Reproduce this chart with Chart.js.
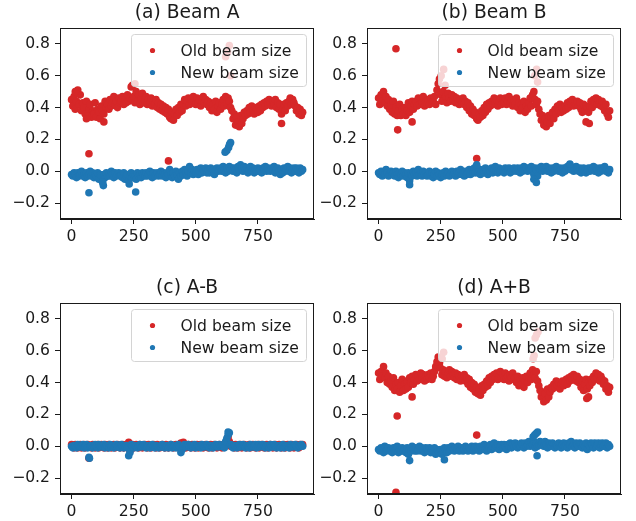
<!DOCTYPE html>
<html>
<head>
<meta charset="utf-8">
<script src="https://cdn.jsdelivr.net/npm/chart.js@4/dist/chart.umd.min.js"></script>
<style>
  html, body { margin: 0; padding: 0; background: #fff; overflow: hidden; }
  #wrap { position: relative; width: 636px; height: 521px; }
  canvas { position: absolute; }
</style>
</head>
<body>
<div id="wrap">
  <canvas id="cA" width="318" height="260" style="left:0px;top:0px"></canvas>
  <canvas id="cB" width="318" height="260" style="left:307px;top:0px"></canvas>
  <canvas id="cC" width="318" height="260" style="left:0px;top:275px"></canvas>
  <canvas id="cD" width="318" height="260" style="left:307px;top:275px"></canvas>
</div>
<script>
// ---------- data ----------
const TITLES = ["(a) Beam A", "(b) Beam B", "(c) A-B", "(d) A+B"];
const SERIES = ["Old beam size", "New beam size"];
const X_TICKS = [0, 250, 500, 750];
const Y_TICKS = [-0.2, 0.0, 0.2, 0.4, 0.6, 0.8];
const SAMPLE_STEP = 5; // sample index spacing of the values below

const oldA = [
0.45,0.41,0.47,0.39,0.44,0.51,0.42,0.48,0.38,0.43,
0.40,0.36,0.44,0.35,0.39,0.42,0.34,0.38,0.36,0.43,
0.34,0.39,0.37,0.33,0.41,0.38,0.36,0.44,0.40,0.42,
0.39,0.45,0.41,0.43,0.47,0.42,0.44,0.40,0.46,0.43,
0.44,0.47,0.42,0.45,0.43,0.48,0.44,0.46,0.53,0.45,
0.47,0.43,0.50,0.44,0.48,0.42,0.46,0.49,0.43,0.45,
0.47,0.42,0.45,0.43,0.46,0.41,0.44,0.42,0.45,0.40,
0.43,0.39,0.42,0.38,0.41,0.37,0.40,0.36,0.39,0.34,
0.33,0.37,0.32,0.36,0.39,0.35,0.40,0.37,0.42,0.38,
0.42,0.45,0.41,0.44,0.46,0.42,0.45,0.43,0.47,0.44,
0.42,0.46,0.43,0.45,0.41,0.44,0.47,0.43,0.45,0.42,
0.44,0.40,0.43,0.38,0.42,0.39,0.44,0.37,0.41,0.43,
0.39,0.42,0.45,0.41,0.47,0.43,0.46,0.44,0.40,0.38,
0.33,0.36,0.29,0.34,0.31,0.28,0.35,0.30,0.33,0.37,
0.35,0.38,0.36,0.40,0.37,0.41,0.38,0.36,0.40,0.39,
0.37,0.41,0.38,0.42,0.40,0.43,0.41,0.44,0.42,0.45,
0.43,0.41,0.44,0.42,0.45,0.40,0.43,0.39,0.42,0.36,
0.39,0.42,0.38,0.43,0.41,0.44,0.46,0.42,0.45,0.43,
0.41,0.38,0.40,0.36,0.39,0.35,0.37];
const oldA_extra = [[70,0.11],[130,0.31],[390,0.065],[845,0.30],[620,0.72],[628,0.75],[635,0.79],[640,0.60],[255,0.55],[245,0.54],[15,0.50],[60,0.33]];

const newA = [
-0.02,-0.03,-0.01,-0.02,-0.04,-0.01,-0.03,-0.02,0.00,-0.03,
-0.02,-0.04,-0.01,-0.03,-0.02,0.00,-0.03,-0.01,-0.04,-0.02,
-0.03,-0.01,-0.05,-0.02,-0.03,-0.06,-0.02,-0.04,-0.01,-0.03,
-0.02,-0.03,0.00,-0.02,-0.04,-0.01,-0.03,-0.02,-0.01,-0.03,
-0.02,-0.04,-0.01,-0.05,-0.03,-0.02,-0.06,-0.03,-0.01,-0.04,
-0.02,-0.03,-0.05,-0.01,-0.03,-0.02,-0.04,-0.01,-0.02,-0.03,
-0.01,-0.03,-0.02,0.00,-0.02,-0.04,-0.01,-0.03,-0.02,-0.01,
-0.03,-0.02,0.00,-0.03,-0.01,-0.02,-0.04,-0.01,-0.02,0.01,
-0.02,-0.04,-0.01,-0.03,0.00,-0.02,-0.05,-0.01,-0.03,0.00,
-0.02,0.01,-0.01,-0.03,0.00,0.03,-0.01,0.01,-0.02,0.00,
-0.01,0.01,-0.02,0.00,0.02,-0.01,0.01,0.00,0.02,-0.01,
0.01,-0.01,0.02,0.00,0.01,-0.02,0.01,0.02,0.00,0.01,
0.02,0.00,0.03,0.01,-0.01,0.02,0.00,0.03,0.01,0.02,
0.00,0.02,0.01,-0.01,0.03,0.01,0.04,0.02,0.00,0.03,
0.01,0.02,-0.01,0.01,0.03,0.00,0.02,-0.01,0.01,0.00,
0.02,0.00,0.01,-0.01,0.02,0.01,0.03,0.00,0.02,0.01,
0.00,0.02,0.01,0.03,-0.01,0.01,0.02,0.00,-0.02,0.01,
-0.01,0.02,0.00,0.01,0.03,0.00,0.02,-0.01,0.01,0.02,
0.00,0.02,0.01,-0.01,0.02,0.00,0.01];
const newA_extra = [[70,-0.135],[258,-0.13],[128,-0.09],[125,-0.07],[232,-0.08],[618,0.12],[625,0.13],[632,0.15],[636,0.17],[640,0.18]];

const oldB = [
0.46,0.42,0.48,0.44,0.50,0.43,0.47,0.41,0.45,0.39,
0.42,0.37,0.44,0.36,0.40,0.35,0.38,0.42,0.35,0.39,
0.36,0.40,0.35,0.38,0.43,0.37,0.41,0.44,0.39,0.42,
0.44,0.41,0.46,0.42,0.45,0.43,0.47,0.41,0.44,0.42,
0.45,0.42,0.46,0.43,0.44,0.47,0.42,0.51,0.55,0.58,
0.48,0.44,0.50,0.45,0.47,0.43,0.49,0.46,0.44,0.48,
0.45,0.47,0.43,0.46,0.44,0.42,0.45,0.43,0.46,0.42,
0.44,0.40,0.43,0.38,0.41,0.36,0.39,0.35,0.37,0.33,
0.32,0.36,0.34,0.38,0.35,0.40,0.37,0.42,0.39,0.43,
0.41,0.44,0.42,0.46,0.43,0.45,0.41,0.44,0.46,0.42,
0.45,0.43,0.46,0.42,0.44,0.47,0.43,0.45,0.41,0.44,
0.42,0.46,0.40,0.43,0.38,0.42,0.40,0.44,0.37,0.41,
0.39,0.43,0.46,0.41,0.48,0.50,0.45,0.42,0.44,0.39,
0.36,0.32,0.35,0.29,0.33,0.28,0.31,0.35,0.30,0.34,
0.37,0.33,0.39,0.36,0.41,0.38,0.42,0.37,0.40,0.38,
0.41,0.39,0.43,0.40,0.44,0.42,0.45,0.41,0.43,0.42,
0.44,0.41,0.43,0.39,0.37,0.42,0.38,0.41,0.40,0.37,
0.41,0.44,0.40,0.45,0.43,0.46,0.42,0.45,0.43,0.41,
0.44,0.40,0.38,0.42,0.36,0.34,0.38];
const oldB_extra = [[70,0.77],[77,0.26],[135,0.31],[395,0.08],[252,0.60],[262,0.64],[268,0.54],[628,0.60],[636,0.64],[640,0.56],[835,0.31],[848,0.30]];

const newB = [
-0.01,-0.02,0.00,-0.03,-0.01,-0.02,0.01,-0.01,-0.03,-0.02,
0.00,-0.02,-0.01,-0.03,0.00,-0.02,-0.04,-0.01,-0.02,0.00,
-0.03,-0.01,-0.02,-0.04,-0.01,-0.06,-0.02,-0.03,0.00,-0.02,
-0.01,-0.03,0.01,-0.02,-0.01,-0.03,0.00,-0.02,-0.01,-0.03,
-0.02,0.00,-0.03,-0.01,-0.04,-0.02,0.00,-0.03,-0.01,-0.02,
-0.04,-0.02,-0.01,-0.03,0.00,-0.02,-0.01,-0.03,-0.02,0.00,
-0.02,-0.01,-0.03,0.00,-0.02,-0.01,0.01,-0.02,-0.01,-0.03,
0.00,-0.02,-0.01,0.01,-0.02,0.00,-0.01,0.02,-0.01,0.03,
-0.01,0.01,-0.02,0.00,0.01,-0.01,0.02,0.00,-0.02,0.01,
0.00,0.02,-0.01,0.01,0.03,0.00,-0.01,0.02,0.00,0.01,
0.01,-0.01,0.02,0.00,0.01,0.02,-0.01,0.01,0.00,0.02,
0.01,0.00,0.02,0.01,-0.01,0.02,0.00,0.03,0.01,0.02,
0.00,0.02,0.01,0.03,0.00,-0.02,0.02,0.01,-0.03,0.02,
0.01,0.03,0.00,0.02,0.01,0.03,0.00,0.02,0.01,-0.01,
0.02,0.00,0.01,0.03,0.01,0.00,0.02,0.01,-0.01,0.02,
0.00,0.01,0.03,0.02,0.04,0.01,0.02,0.00,0.01,0.03,
0.01,0.00,0.02,-0.01,0.01,0.02,0.00,-0.01,0.01,0.02,
0.00,0.02,0.01,0.03,0.00,0.02,0.01,-0.01,0.02,0.00,
0.02,0.01,0.03,0.00,0.01,-0.01,0.01];
const newB_extra = [[125,-0.085],[395,0.04],[625,-0.05],[635,-0.07],[770,0.045]];

const oldC = [
0.01,0.00,-0.01,0.01,0.00,-0.01,0.00,0.01,-0.01,0.00,
0.01,-0.01,0.00,0.01,-0.075,0.00,-0.01,0.01,0.00,-0.01,
0.00,0.01,-0.01,0.00,0.01,0.00,-0.01,0.01,0.00,-0.01,
0.01,0.00,-0.01,0.00,0.01,-0.01,0.00,0.01,0.00,-0.01,
0.00,0.01,-0.01,0.00,0.01,0.00,0.025,-0.03,0.00,0.01,
-0.01,0.00,0.01,0.00,-0.01,0.01,0.00,-0.01,0.00,0.01,
0.00,-0.01,0.01,0.00,-0.01,0.00,0.01,0.00,-0.01,0.01,
0.00,-0.01,0.00,0.01,0.00,-0.01,0.01,0.00,-0.01,0.00,
0.01,0.00,-0.01,0.00,0.01,0.00,-0.01,0.01,0.02,0.00,
0.025,0.01,-0.01,0.00,0.01,0.00,-0.01,0.01,0.00,-0.01,
0.00,0.01,-0.01,0.00,0.01,0.00,-0.01,0.00,0.01,0.00,
-0.01,0.00,0.01,-0.01,0.00,0.01,0.00,-0.01,0.00,0.01,
0.00,-0.01,0.01,0.00,0.02,0.04,0.06,0.03,0.00,0.01,
0.00,-0.01,0.01,0.00,-0.01,0.00,0.01,-0.01,0.00,0.01,
0.00,-0.01,0.00,0.01,-0.01,0.00,0.01,0.00,-0.01,0.00,
0.01,-0.01,0.00,0.01,0.00,-0.01,0.00,0.01,-0.01,0.00,
0.01,0.00,-0.01,0.00,0.01,-0.01,0.00,0.01,0.00,-0.01,
0.00,0.01,-0.01,0.00,0.01,0.00,-0.01,0.01,0.00,-0.01,
0.00,0.01,0.00,-0.01,0.01,0.00,0.01];
const oldC_extra = [];

const newC = [
0.00,-0.01,0.005,0.00,-0.01,0.01,0.00,-0.005,0.00,0.01,
-0.01,0.00,0.01,-0.01,-0.07,0.00,0.005,-0.01,0.00,0.01,
0.00,-0.01,0.01,0.00,-0.005,0.00,0.01,-0.01,0.005,0.00,
-0.01,0.01,0.00,0.005,-0.01,0.00,0.01,-0.005,0.00,-0.01,
0.01,0.00,-0.01,0.00,0.005,-0.01,-0.06,-0.04,0.01,0.00,
-0.01,0.005,0.00,-0.01,0.00,0.01,-0.005,0.00,0.01,0.00,
-0.01,0.00,0.005,-0.01,0.00,0.01,0.00,-0.01,0.005,0.00,
-0.01,0.00,-0.005,0.01,0.00,-0.01,0.00,0.005,-0.01,0.00,
0.01,-0.01,0.00,0.005,-0.01,0.00,0.01,0.00,-0.04,-0.02,
0.00,0.01,-0.005,0.00,0.01,0.00,-0.01,0.005,0.00,0.01,
-0.01,0.00,0.005,0.00,-0.01,0.01,0.00,-0.005,0.00,0.01,
0.00,-0.01,0.005,0.00,-0.01,0.00,0.01,0.00,-0.005,0.01,
0.00,0.005,0.00,-0.01,0.03,0.05,0.07,0.085,0.01,0.00,
-0.01,0.005,0.00,-0.01,0.00,0.01,-0.005,0.00,0.01,0.00,
-0.01,0.005,0.00,-0.01,0.01,0.00,-0.005,0.00,0.01,-0.01,
0.00,0.01,-0.005,0.00,0.01,0.00,-0.01,0.005,0.00,-0.01,
0.01,0.00,-0.005,0.01,0.00,-0.01,0.00,0.005,-0.01,0.00,
0.01,-0.01,0.00,0.005,0.00,-0.01,0.01,0.00,-0.005,0.00,
0.01,0.00,-0.01,0.005,0.00,0.01,0.00];
const newC_extra = [[72,-0.075],[630,0.09]];

const oldD = [
0.46,0.42,0.47,0.44,0.50,0.43,0.46,0.40,0.44,0.39,
0.41,0.37,0.43,0.35,0.39,0.36,0.40,0.34,0.38,0.42,
0.35,0.39,0.36,0.41,0.37,0.43,0.40,0.44,0.39,0.42,
0.45,0.41,0.44,0.42,0.46,0.43,0.45,0.41,0.44,0.42,
0.45,0.43,0.46,0.42,0.44,0.47,0.50,0.53,0.56,0.52,
0.49,0.45,0.48,0.44,0.47,0.43,0.46,0.48,0.44,0.47,
0.45,0.43,0.46,0.42,0.45,0.44,0.41,0.44,0.42,0.45,
0.41,0.43,0.39,0.42,0.37,0.40,0.36,0.39,0.34,0.37,
0.33,0.36,0.32,0.38,0.35,0.39,0.37,0.41,0.38,0.43,
0.40,0.44,0.42,0.45,0.43,0.46,0.42,0.44,0.47,0.43,
0.45,0.42,0.46,0.43,0.44,0.41,0.45,0.43,0.46,0.42,
0.43,0.40,0.44,0.38,0.42,0.39,0.43,0.37,0.41,0.44,
0.40,0.43,0.46,0.42,0.48,0.45,0.43,0.47,0.41,0.38,
0.35,0.31,0.34,0.28,0.33,0.29,0.36,0.31,0.34,0.37,
0.36,0.39,0.37,0.41,0.38,0.40,0.36,0.39,0.41,0.38,
0.40,0.42,0.39,0.43,0.41,0.44,0.42,0.45,0.43,0.41,
0.44,0.40,0.42,0.37,0.41,0.35,0.39,0.42,0.36,0.40,
0.38,0.42,0.40,0.44,0.42,0.46,0.43,0.45,0.41,0.44,
0.42,0.39,0.41,0.36,0.38,0.34,0.37];
const oldD_extra = [[75,0.19],[70,-0.29],[135,0.31],[395,0.07],[262,0.59],[256,0.55],[622,0.55],[626,0.57],[630,0.68],[636,0.70],[642,0.72],[838,0.30],[845,0.31]];

const newD = [
-0.02,-0.03,-0.01,-0.02,-0.04,0.00,-0.03,-0.02,-0.01,-0.03,
-0.02,-0.04,-0.01,-0.03,-0.02,0.00,-0.04,-0.02,-0.03,-0.01,
-0.03,-0.02,-0.04,-0.01,-0.05,-0.02,-0.03,0.00,-0.02,-0.03,
-0.01,-0.03,-0.02,0.00,-0.03,-0.01,-0.02,-0.04,-0.01,-0.02,
-0.03,-0.01,-0.04,-0.02,-0.03,-0.01,-0.05,-0.02,-0.03,-0.04,
-0.02,-0.05,-0.03,-0.01,-0.02,-0.04,-0.01,-0.03,-0.02,0.00,
-0.02,-0.03,-0.01,-0.02,0.00,-0.03,-0.02,-0.01,-0.03,-0.02,
0.00,-0.02,-0.03,-0.01,-0.02,0.00,-0.03,-0.01,0.00,-0.02,
-0.01,-0.03,0.00,-0.02,-0.01,0.01,-0.02,-0.03,0.00,-0.01,
0.01,-0.02,0.00,0.02,-0.01,0.00,0.01,-0.02,0.00,0.01,
-0.01,0.01,0.00,-0.02,0.01,0.00,0.02,-0.01,0.01,0.00,
0.02,0.00,-0.01,0.01,0.00,0.02,0.01,-0.01,0.02,0.00,
0.01,0.03,0.00,0.02,0.01,0.03,-0.01,0.02,0.00,0.01,
0.03,0.01,0.02,0.00,0.03,0.01,-0.01,0.02,0.01,0.00,
0.02,0.01,-0.01,0.01,0.00,0.02,0.00,-0.01,0.01,0.02,
0.00,0.01,-0.01,0.02,0.01,0.03,0.00,0.01,-0.01,0.02,
0.01,0.00,0.02,0.01,-0.01,0.01,0.00,0.02,-0.02,0.01,
0.00,0.02,0.01,-0.01,0.02,0.00,0.01,0.02,-0.01,0.01,
0.02,0.00,0.01,0.02,-0.01,0.01,0.00];
const newD_extra = [[125,-0.09],[265,-0.085],[622,0.06],[628,0.07],[634,0.08],[640,0.09],[638,-0.06]];

// ---------- styling ----------
const RED = '#d62728';
const BLUE = '#1f77b4';
const FONT = 'DejaVu Sans';
const TXT = '#1a1a1a';
const PT_R = 3.8;

const framePlugin = {
  id: 'frame',
  afterDraw(chart) {
    const a = chart.chartArea, ctx = chart.ctx;
    ctx.save();
    ctx.strokeStyle = '#1a1a1a';
    ctx.lineWidth = 1;
    ctx.strokeRect(Math.round(a.left) + 0.5, Math.round(a.top) + 0.5,
                   Math.round(a.right - a.left) - 1, Math.round(a.bottom - a.top) - 1);
    ctx.restore();
  }
};

const titlePlugin = {
  id: 'mtitle',
  afterDraw(chart, args, opts) {
    const a = chart.chartArea, ctx = chart.ctx;
    ctx.save();
    ctx.font = '18.7px "' + FONT + '"';
    ctx.fillStyle = TXT;
    ctx.textAlign = 'center';
    ctx.textBaseline = 'alphabetic';
    ctx.fillText(opts.text, (a.left + a.right) / 2, a.top - 10);
    ctx.restore();
  }
};

function roundRect(ctx, x, y, w, h, r) {
  ctx.beginPath();
  ctx.moveTo(x + r, y);
  ctx.lineTo(x + w - r, y);
  ctx.arcTo(x + w, y, x + w, y + r, r);
  ctx.lineTo(x + w, y + h - r);
  ctx.arcTo(x + w, y + h, x + w - r, y + h, r);
  ctx.lineTo(x + r, y + h);
  ctx.arcTo(x, y + h, x, y + h - r, r);
  ctx.lineTo(x, y + r);
  ctx.arcTo(x, y, x + r, y, r);
  ctx.closePath();
}

const legendPlugin = {
  id: 'mlegend',
  afterDatasetsDraw(chart) {
    const a = chart.chartArea, ctx = chart.ctx;
    const w = 175, h = 52;
    const x = Math.round(a.right - 8 - w) + 0.5, y = Math.round(a.top + 6) + 0.5;
    ctx.save();
    roundRect(ctx, x, y, w, h, 3);
    ctx.fillStyle = 'rgba(255,255,255,0.8)';
    ctx.fill();
    ctx.strokeStyle = '#d4d4d4';
    ctx.lineWidth = 1;
    ctx.stroke();
    ctx.font = '15.6px "' + FONT + '"';
    ctx.textAlign = 'left';
    ctx.textBaseline = 'middle';
    chart.data.datasets.forEach((ds, i) => {
      const cy = y + 16 + i * 22;
      ctx.beginPath();
      ctx.arc(x + 21, cy, 2.6, 0, Math.PI * 2);
      ctx.fillStyle = ds.backgroundColor;
      ctx.fill();
      ctx.fillStyle = TXT;
      ctx.fillText(ds.label, x + 49, cy + 1);
    });
    ctx.restore();
  }
};

function toPoints(vals, extra) {
  const pts = vals.map((v, i) => ({ x: i * SAMPLE_STEP, y: v }));
  extra.forEach(p => pts.push({ x: p[0], y: p[1] }));
  return pts;
}

function fmtY(v) {
  const s = Math.abs(v).toFixed(1);
  return v < -1e-9 ? '\u2212' + s : s;
}

function makeChart(id, title, oldVals, oldExtra, newVals, newExtra) {
  const axisCommon = {
    type: 'linear',
    grid: { display: true, drawOnChartArea: false, drawTicks: true, tickLength: 5, color: '#1a1a1a', lineWidth: 1 },
    border: { display: true, color: '#1a1a1a', width: 1 },
  };
  return new Chart(document.getElementById(id), {
    type: 'scatter',
    data: {
      datasets: [
        { label: SERIES[0], data: toPoints(oldVals, oldExtra), backgroundColor: RED, borderColor: RED,
          pointRadius: PT_R, pointBorderWidth: 0, pointHoverRadius: PT_R, order: 2 },
        { label: SERIES[1], data: toPoints(newVals, newExtra), backgroundColor: BLUE, borderColor: BLUE,
          pointRadius: PT_R, pointBorderWidth: 0, pointHoverRadius: PT_R, order: 1 }
      ]
    },
    options: {
      responsive: false,
      animation: false,
      devicePixelRatio: 1,
      events: [],
      layout: { padding: { top: 28, right: 3, left: 0, bottom: 0 } },
      plugins: {
        legend: { display: false },
        tooltip: { enabled: false },
        title: { display: false },
        mtitle: { text: title }
      },
      scales: {
        x: Object.assign({}, axisCommon, {
          min: -46.5, max: 976.5,
          afterFit: s => { s.height = 41; },
          afterBuildTicks: s => { s.ticks = X_TICKS.map(v => ({ value: v })); },
          ticks: { color: TXT, font: { family: FONT, size: 15.6 }, padding: 4, maxRotation: 0, autoSkip: false,
                   callback: v => String(v) }
        }),
        y: Object.assign({}, axisCommon, {
          min: -0.3, max: 0.9,
          afterFit: s => { s.width = 60; },
          afterBuildTicks: s => { s.ticks = Y_TICKS.map(v => ({ value: v })); },
          ticks: { color: TXT, font: { family: FONT, size: 15.6 }, padding: 5, autoSkip: false,
                   callback: v => fmtY(v) }
        })
      }
    },
    plugins: [legendPlugin, framePlugin, titlePlugin]
  });
}

makeChart('cA', TITLES[0], oldA, oldA_extra, newA, newA_extra);
makeChart('cB', TITLES[1], oldB, oldB_extra, newB, newB_extra);
makeChart('cC', TITLES[2], oldC, oldC_extra, newC, newC_extra);
makeChart('cD', TITLES[3], oldD, oldD_extra, newD, newD_extra);
</script>
</body>
</html>
